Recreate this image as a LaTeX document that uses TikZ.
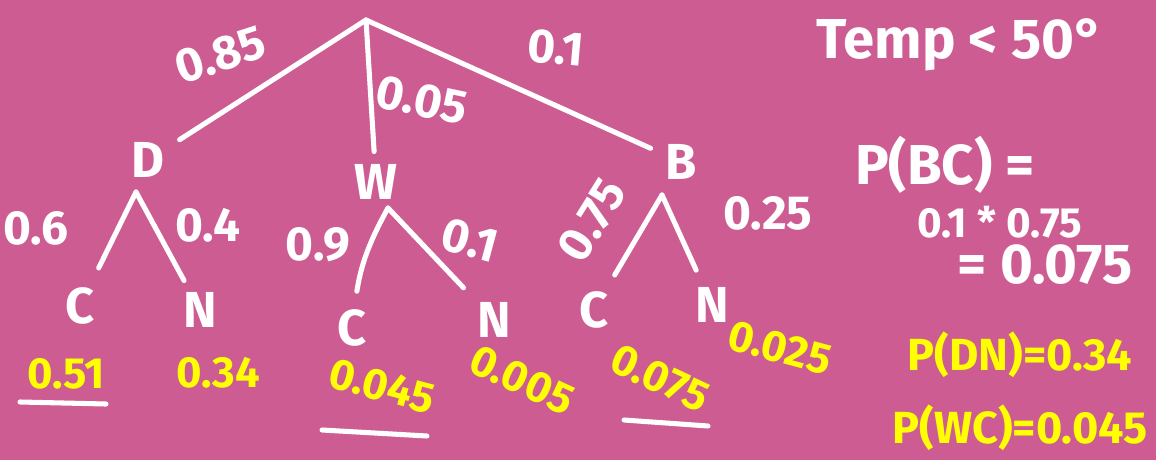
\documentclass[tikz,border=0pt]{standalone}
\usepackage{fontspec}
\setmainfont{Fira Sans}
\definecolor{bgpink}{RGB}{205,92,146}
\definecolor{marker}{RGB}{255,255,0}
\tikzset{
  branch/.style={draw=white,line width=3.6pt,line cap=round},
  letter/.style={text=white,font=\fontsize{36}{36}\selectfont\bfseries,inner sep=3pt},
  prob/.style={text=white,font=\fontsize{34}{34}\selectfont\bfseries,inner sep=1pt},
  result/.style={text=marker,font=\fontsize{31}{31}\selectfont\bfseries,inner sep=1pt},
  note/.style={text=white,font=\fontsize{40}{40}\selectfont\bfseries},
  answer/.style={text=marker,font=\fontsize{32}{32}\selectfont\bfseries},
}
\begin{document}
\begin{tikzpicture}[x=0.025cm,y=-0.025cm]
\fill[bgpink] (0,0) rectangle (1156,460);
\useasboundingbox (0,0) rectangle (1156,460);

% first level
\coordinate (root) at (366,20);
\node[letter] (D) at (148,160) {D};
\node[letter] (W) at (376,182) {W};
\node[letter] (B) at (681,162) {B};
\draw[branch,shorten >=9pt] (root) -- (D);
\draw[branch,shorten >=6pt] (root) -- (W);
\draw[branch,shorten >=8pt] (root) -- (B);
\node[prob,rotate=18] (pD) at (220,55) {0.85};
\node[prob,rotate=-12] (pW) at (422,100) {0.05};
\node[prob,rotate=-5] (pB) at (556,48) {0.1};

% second level
\coordinate (Dfork) at (136,192);
\coordinate (Wfork) at (388,208);
\coordinate (Bfork) at (662,195);
\node[letter] (DC) at (80,306) {C};
\node[letter] (DN) at (200,310) {N};
\node[letter] (WC) at (352,328) {C};
\node[letter] (WN) at (494,320) {N};
\node[letter] (BC) at (594,310) {C};
\node[letter] (BN) at (712,305) {N};
\draw[branch,shorten >=12pt] (Dfork) -- (DC);
\draw[branch,shorten >=6pt] (Dfork) -- (DN);
\draw[branch,shorten >=10pt] (Wfork) to[bend right=10] (WC);
\draw[branch,shorten >=10pt] (Wfork) -- (WN);
\draw[branch,shorten >=10pt] (Bfork) -- (BC);
\draw[branch,shorten >=10pt] (Bfork) -- (BN);
\node[prob] (pDC) at (36,228) {0.6};
\node[prob] (pDN) at (208,225) {0.4};
\node[prob] (pWC) at (318,245) {0.9};
\node[prob,rotate=-15] (pWN) at (470,240) {0.1};
\node[prob,rotate=58] (pBC) at (592,220) {0.75};
\node[prob] (pBN) at (768,213) {0.25};

% joint probabilities
\node[result] (rDC) at (66,374) {0.51};
\node[result] (rDN) at (218,373) {0.34};
\node[result,rotate=-15] (rWC) at (382,386) {0.045};
\node[result,rotate=-25] (rWN) at (522,380) {0.005};
\node[result,rotate=-25] (rBC) at (660,378) {0.075};
\node[result,rotate=-15] (rBN) at (780,348) {0.025};
\coordinate (uDC1) at (20,402);
\coordinate (uDC2) at (106,404);
\coordinate (uWC1) at (322,430);
\coordinate (uWC2) at (427,436);
\coordinate (uBC1) at (624,420);
\coordinate (uBC2) at (708,426);
\draw[branch] (uDC1) -- (uDC2);
\draw[branch] (uWC1) -- (uWC2);
\draw[branch] (uBC1) -- (uBC2);

% notes
\node[note] (temp) at (960,45) {Temp < 50°};
\node[note] (pbc) at (945,165) {P(BC) =};
\node[note,font=\fontsize{30}{30}\selectfont\bfseries] (prod) at (1000,222) {0.1 * 0.75};
\node[note] (eq) at (1045,265) {= 0.075};
\node[answer] (dn) at (1020,355) {P(DN)=0.34};
\node[answer] (wc) at (1020,428) {P(WC)=0.045};
\end{tikzpicture}
\end{document}
